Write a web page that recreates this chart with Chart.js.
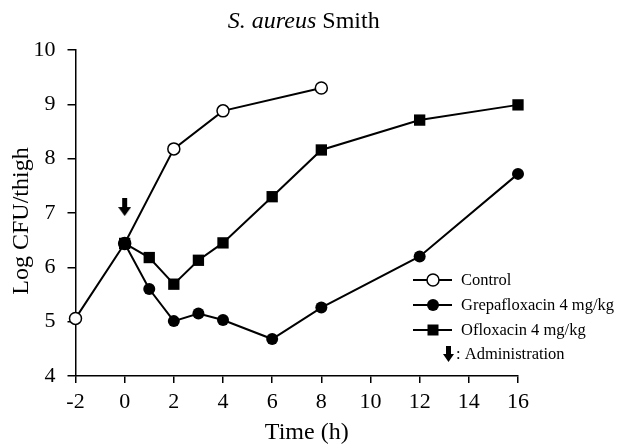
<!DOCTYPE html>
<html>
<head>
<meta charset="utf-8">
<script src="https://cdn.jsdelivr.net/npm/chart.js@4"></script>
<style>
  html, body { margin: 0; padding: 0; background: #fff; }
</style>
</head>
<body>
<canvas id="chart" width="620" height="447"></canvas>
<script>
// === Datos ===
const timeControl = [-2, 0, 2, 4, 8];
const logControl = [5.06, 6.44, 8.18, 8.88, 9.30];
const timeDrug = [0, 1, 2, 3, 4, 6, 8, 12, 16];
const logGrepafloxacin = [6.44, 5.60, 5.01, 5.15, 5.03, 4.68, 5.26, 6.20, 7.72];
const logOfloxacin = [6.44, 6.18, 5.69, 6.13, 6.45, 7.30, 8.16, 8.71, 8.99];
const adminTime = [0];
const adminLevel = [7.11];
const seriesLabels = ["Control", "Grepafloxacin 4 mg/kg", "Ofloxacin 4 mg/kg"];
const adminLabel = ": Administration";
const titleItalic = "S. aureus";
const titleRoman = " Smith";
const xTitle = "Time (h)";
const yTitle = "Log CFU/thigh";

const FONT = "'Liberation Serif', 'Times New Roman', serif";

// flecha hacia abajo, usada como pointStyle
function makeArrow(w, h) {
  const c = document.createElement("canvas");
  c.width = w; c.height = h;
  const g = c.getContext("2d");
  g.fillStyle = "#000";
  const shaft = Math.round(w * 0.42);
  const headH = Math.round(h * 0.5);
  g.fillRect((w - shaft) / 2, 0, shaft, h - headH + 1);
  g.beginPath();
  g.moveTo(0, h - headH);
  g.lineTo(w, h - headH);
  g.lineTo(w / 2, h);
  g.closePath();
  g.fill();
  return c;
}
const arrowBig = makeArrow(13, 18);
const arrowSmall = makeArrow(11, 16);

const toXY = (xs, ys) => xs.map((x, i) => ({ x: x, y: ys[i] }));

// === Textos y leyenda ===
const textPlugin = {
  id: "texts",
  afterDraw(chart) {
    const ctx = chart.ctx;
    const a = chart.chartArea;
    ctx.save();
    ctx.fillStyle = "#000";
    ctx.strokeStyle = "#000";
    ctx.textBaseline = "middle";

    // título
    ctx.font = "italic 24px " + FONT;
    const w1 = ctx.measureText(titleItalic).width;
    ctx.font = "24px " + FONT;
    const w2 = ctx.measureText(titleRoman).width;
    let tx = (a.left + a.right) / 2 + 7 - (w1 + w2) / 2;
    ctx.textAlign = "left";
    ctx.font = "italic 24px " + FONT;
    ctx.fillText(titleItalic, tx, 22);
    ctx.font = "24px " + FONT;
    ctx.fillText(titleRoman, tx + w1, 22);

    // títulos de ejes
    ctx.textAlign = "center";
    ctx.fillText(xTitle, (a.left + a.right) / 2 + 10, a.bottom + 57);
    ctx.save();
    ctx.translate(22, a.top + 171);
    ctx.rotate(-Math.PI / 2);
    ctx.fillText(yTitle, 0, 0);
    ctx.restore();

    // leyenda
    ctx.font = "16.5px " + FONT;
    ctx.textAlign = "left";
    const lx0 = a.right - 105, lx1 = a.right - 66, mx = a.right - 85;
    const rows = [a.top + 230, a.top + 255, a.top + 280];
    ctx.lineWidth = 2;
    rows.forEach((y, i) => {
      ctx.beginPath();
      ctx.moveTo(lx0, y);
      ctx.lineTo(lx1, y);
      ctx.stroke();
      ctx.beginPath();
      if (i === 2) {
        ctx.rect(mx - 5.5, y - 5.5, 11, 11);
        ctx.fill();
      } else {
        ctx.arc(mx, y, 6, 0, Math.PI * 2);
        if (i === 0) {
          ctx.fillStyle = "#fff";
          ctx.fill();
          ctx.fillStyle = "#000";
          ctx.lineWidth = 1.5;
          ctx.stroke();
          ctx.lineWidth = 2;
        } else {
          ctx.fill();
        }
      }
      ctx.fillText(seriesLabels[i], a.right - 57, y + 1);
    });
    const ay = a.top + 304;
    ctx.drawImage(arrowSmall, a.right - 75, ay - 8);
    ctx.fillText(adminLabel, a.right - 62, ay + 1);
    ctx.restore();
  }
};

new Chart(document.getElementById("chart"), {
  type: "scatter",
  data: {
    datasets: [
      {
        label: seriesLabels[0],
        data: toXY(timeControl, logControl),
        showLine: true,
        clip: false,
        borderColor: "#000",
        borderWidth: 2,
        pointStyle: "circle",
        pointRadius: 6,
        pointBackgroundColor: "#fff",
        pointBorderColor: "#000",
        pointBorderWidth: 1.5,
        order: 3
      },
      {
        label: seriesLabels[1],
        data: toXY(timeDrug, logGrepafloxacin),
        showLine: true,
        clip: false,
        borderColor: "#000",
        borderWidth: 2,
        pointStyle: "circle",
        pointRadius: 6,
        pointBackgroundColor: "#000",
        pointBorderColor: "#000",
        pointBorderWidth: 0,
        order: 2
      },
      {
        label: seriesLabels[2],
        data: toXY(timeDrug, logOfloxacin),
        showLine: true,
        clip: false,
        borderColor: "#000",
        borderWidth: 2,
        pointStyle: "rect",
        pointRadius: 8,
        pointBackgroundColor: "#000",
        pointBorderColor: "#000",
        pointBorderWidth: 0,
        order: 1
      },
      {
        label: "Administration",
        data: toXY(adminTime, adminLevel),
        showLine: false,
        clip: false,
        pointStyle: arrowBig,
        pointRadius: 9,
        order: 0
      }
    ]
  },
  options: {
    responsive: false,
    animation: false,
    events: [],
    layout: { padding: { top: 50, right: 102, left: 0, bottom: 0 } },
    plugins: {
      legend: { display: false },
      title: { display: false },
      tooltip: { enabled: false }
    },
    scales: {
      x: {
        type: "linear",
        min: -2,
        max: 16,
        ticks: {
          stepSize: 2,
          color: "#000",
          font: { family: FONT, size: 22 },
          padding: 6,
          maxRotation: 0
        },
        grid: {
          display: true,
          drawOnChartArea: false,
          drawTicks: true,
          tickLength: 7,
          color: "#000",
          lineWidth: 1.5
        },
        border: { display: true, color: "#000", width: 1.5 },
        afterFit(scale) { scale.height = 71; }
      },
      y: {
        type: "linear",
        min: 4,
        max: 10,
        ticks: {
          stepSize: 1,
          color: "#000",
          font: { family: FONT, size: 22 },
          padding: 12
        },
        grid: {
          display: true,
          drawOnChartArea: false,
          drawTicks: true,
          tickLength: 8,
          color: "#000",
          lineWidth: 1.5
        },
        border: { display: true, color: "#000", width: 1.5 },
        afterFit(scale) { scale.width = 75.5; }
      }
    }
  },
  plugins: [textPlugin]
});
</script>
</body>
</html>
